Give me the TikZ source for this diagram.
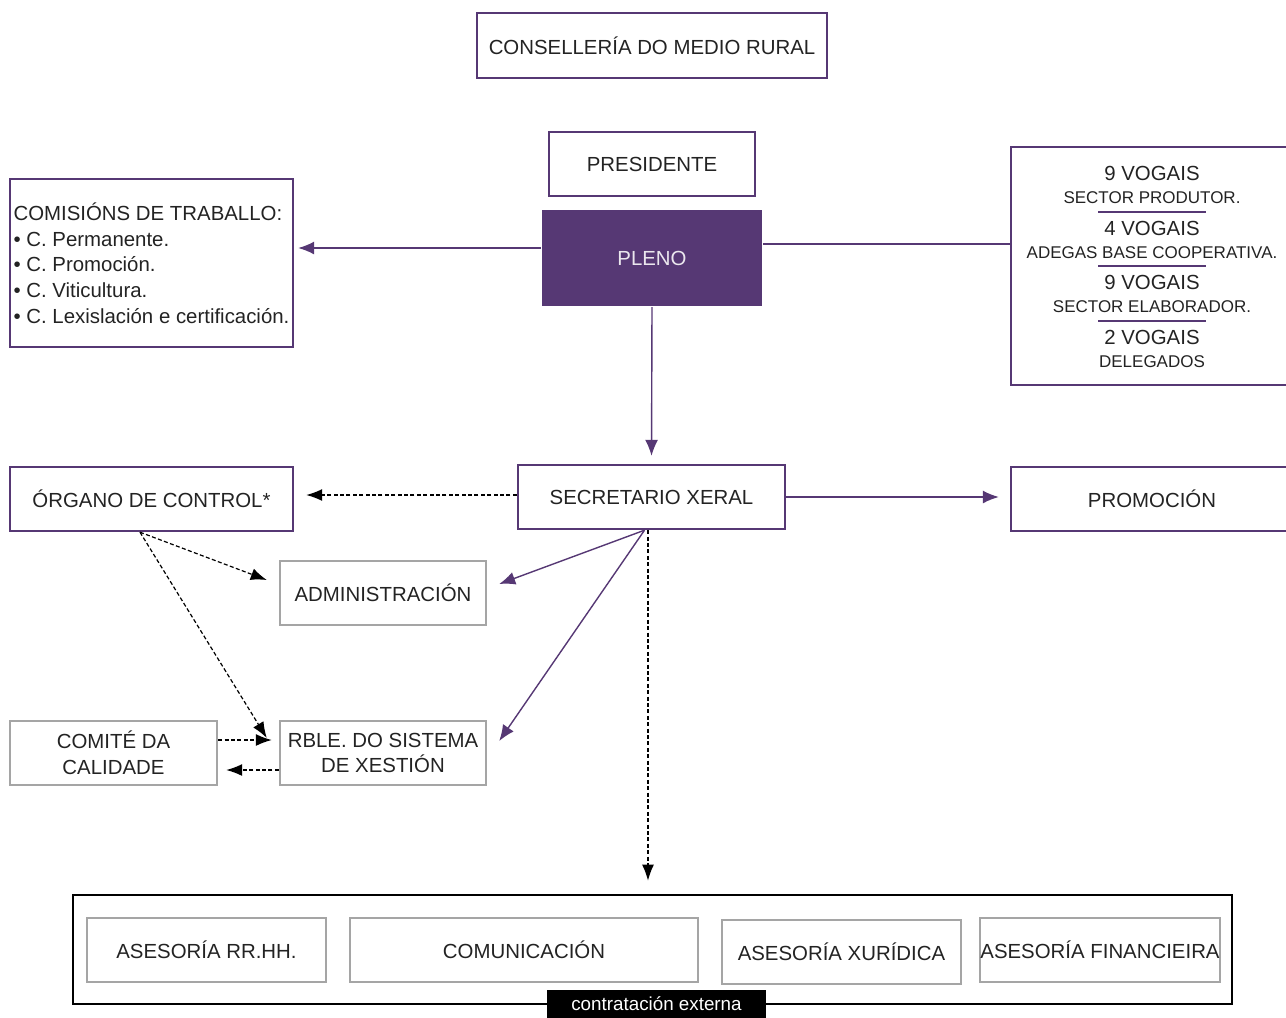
\documentclass[tikz,border=0pt]{standalone}
\usepackage{fontspec}
\setmainfont{Liberation Sans}
\usetikzlibrary{positioning,arrows.meta}
\definecolor{morado}{RGB}{86,56,116}
\definecolor{gris}{RGB}{165,165,165}
\definecolor{texto}{RGB}{35,35,35}
\newcommand{\miuda}{\fontsize{8.5}{10}\selectfont}

\begin{document}
\begin{tikzpicture}[x=0.5pt, y=-0.5pt,
    caixa/.style={rectangle, draw=morado, line width=1.2pt, align=center, text=texto, font=\fontsize{10.2}{12.85}\selectfont, inner sep=1pt},
    caixagris/.style={caixa, draw=gris},
    frecha/.style={-{Latex[length=8pt,width=6.5pt]}, morado, line width=0.7pt},
    trazos/.style={-{Latex[length=8pt,width=6pt]}, black, line width=0.6pt, dash pattern=on 2pt off 1.2pt}]
    \useasboundingbox (0,0) rectangle (1286,1018);

    % Nodes
    \node[caixa, minimum width=175pt, minimum height=32.5pt] (conselleria) at (652,45.5) {CONSELLERÍA DO MEDIO RURAL};
    \node[caixa, minimum width=103pt, minimum height=32pt] (presidente) at (652,164) {PRESIDENTE};
    \node[caixa, draw=none, fill=morado, text=white!88!morado, minimum width=110pt, minimum height=48pt] (pleno) at (652,258) {PLENO};

    \node[caixa, align=left, minimum width=141.5pt, minimum height=84pt] (comisions) at (151.5,263) {COMISIÓNS DE TRABALLO:\\
    \textbullet{} C. Permanente.\\
    \textbullet{} C. Promoción.\\
    \textbullet{} C. Viticultura.\\
    \textbullet{} C. Lexislación e certificación.};

    \node[caixa, minimum width=141pt, minimum height=119pt] (vogais) at (1152,266) {};
    \node[caixa, draw=none, font=\fontsize{10.2}{11.5}\selectfont] (grupo1) at (1152,185) {9 VOGAIS\\{\miuda SECTOR PRODUTOR.}};
    \node[caixa, draw=none, font=\fontsize{10.2}{11.5}\selectfont] (grupo2) at (1152,239.5) {4 VOGAIS\\{\miuda ADEGAS BASE COOPERATIVA.}};
    \node[caixa, draw=none, font=\fontsize{10.2}{11.5}\selectfont] (grupo3) at (1152,294) {9 VOGAIS\\{\miuda SECTOR ELABORADOR.}};
    \node[caixa, draw=none, font=\fontsize{10.2}{11.5}\selectfont] (grupo4) at (1152,348.5) {2 VOGAIS\\{\miuda DELEGADOS}};
    \foreach \y in {212,266,321}
        \draw[morado, line width=0.7pt] (1098,\y) -- (1206,\y);

    \node[caixa, minimum width=133.5pt, minimum height=32pt] (secretario) at (651.5,497) {SECRETARIO XERAL};
    \node[caixa, minimum width=141.5pt, minimum height=32pt] (organo) at (151.5,499) {ÓRGANO DE CONTROL*};
    \node[caixa, minimum width=141pt, minimum height=32pt] (promocion) at (1152,499) {PROMOCIÓN};

    \node[caixagris, minimum width=103pt, minimum height=32pt] (administracion) at (383,593) {ADMINISTRACIÓN};
    \node[caixagris, minimum width=103pt, minimum height=32pt] (rble) at (383,753) {RBLE. DO SISTEMA\\DE XESTIÓN};
    \node[caixagris, minimum width=103.5pt, minimum height=32pt] (comite) at (113.5,753) {COMITÉ DA\\CALIDADE};

    \node[caixa, draw=black, line width=1.4pt, minimum width=579.5pt, minimum height=54.5pt] (externa) at (652.5,949.5) {};
    \node[caixagris, minimum width=119.5pt, minimum height=32pt] (rrhh) at (206.5,950) {ASESORÍA RR.HH.};
    \node[caixagris, minimum width=174pt, minimum height=32pt] (comunicacion) at (524,950) {COMUNICACIÓN};
    \node[caixagris, minimum width=119.5pt, minimum height=32pt] (xuridica) at (841.5,952) {ASESORÍA XURÍDICA};
    \node[caixagris, inner xsep=0pt, minimum width=120pt, minimum height=32pt] (financieira) at (1100,950) {ASESORÍA FINANCIEIRA};
    \node[fill=black, text=white, font=\fontsize{9.4}{11}\selectfont, minimum width=109.5pt, minimum height=14pt, inner sep=0pt] (contratacion) at (656.5,1004) {contratación externa};

    % Connectors
    \coordinate (plenoo) at ([yshift=5pt]pleno.west);
    \coordinate (plenol) at ([yshift=7pt]pleno.east);
    \coordinate (secs) at ([xshift=-3.5pt]secretario.south);
    \coordinate (secd) at ([xshift=-1.75pt]secretario.south);
    \coordinate (orgs) at ([xshift=-5.75pt]organo.south);

    \draw[frecha, shorten >=2pt] (plenoo) -- (plenoo -| comisions.east);
    \draw[morado, line width=0.7pt] (plenol) -- (plenol -| vogais.west);
    \draw[frecha, shorten >=4pt] (pleno.south) -- (secretario.north);
    \draw[trazos, shorten >=6pt] ([yshift=1pt]secretario.west) -- ([yshift=1pt]secretario.west -| organo.east);
    \draw[frecha, shorten >=5.5pt] (secretario.east) -- (secretario.east -| promocion.west);
    \draw[frecha] (secs) -- ([xshift=6pt,yshift=4.5pt]administracion.east);
    \draw[frecha] (secs) -- ([xshift=6pt,yshift=6pt]rble.east);
    \draw[trazos, shorten >=6.5pt] (secd) -- (secd |- externa.north);
    \draw[trazos] (orgs) -- ([xshift=-6pt,yshift=6.5pt]administracion.west);
    \draw[trazos] (orgs) -- ([xshift=-6pt,yshift=7.5pt]rble.west);
    \draw[trazos, shorten >=3.5pt] ([yshift=6.5pt]comite.east) -- ([yshift=6.5pt]comite.east -| rble.west);
    \draw[trazos, shorten >=4pt] ([yshift=-8.5pt]rble.west) -- ([yshift=-8.5pt]rble.west -| comite.east);
\end{tikzpicture}
\end{document}
